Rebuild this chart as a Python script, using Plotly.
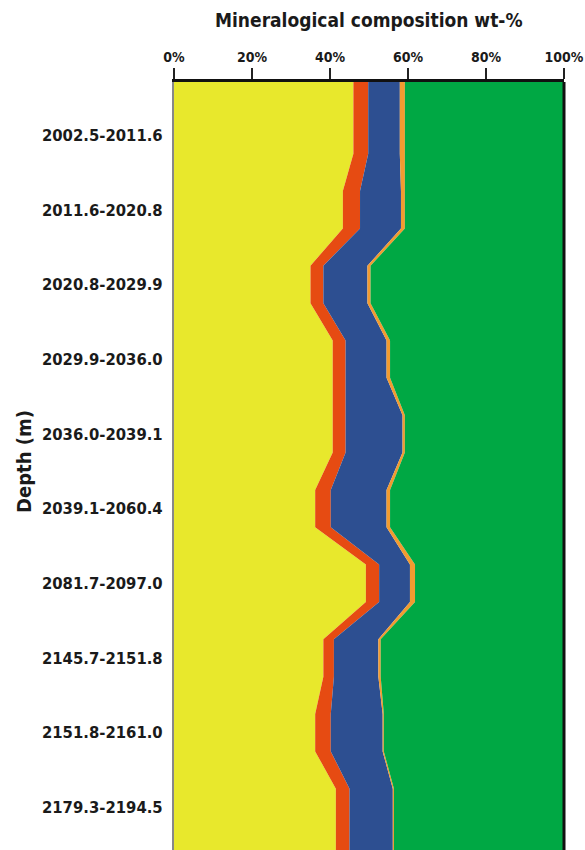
import numpy as np
import plotly.graph_objects as go

# Depth intervals (m), top to bottom
depth_intervals = [
    "2002.5-2011.6", "2011.6-2020.8", "2020.8-2029.9", "2029.9-2036.0",
    "2036.0-2039.1", "2039.1-2060.4", "2081.7-2097.0", "2145.7-2151.8",
    "2151.8-2161.0", "2179.3-2194.5",
]

# Mineral fractions, wt-%
component_a = [46.0, 43.3, 35.0, 40.7, 40.7, 36.2, 49.2, 38.3, 36.2, 41.5]
component_b = [3.8, 4.4, 3.3, 3.3, 3.3, 4.0, 3.4, 2.7, 4.0, 3.5]
component_c = [8.1, 10.5, 11.3, 10.5, 14.6, 14.3, 7.9, 11.4, 13.3, 11.1]
component_d = [1.3, 1.0, 0.8, 0.9, 0.6, 0.9, 1.3, 0.6, 0.3, 0.3]
component_e = [40.8, 40.8, 49.6, 44.6, 40.8, 44.6, 38.2, 47.0, 46.2, 43.6]

x_ticks = [0, 20, 40, 60, 80, 100]

layers = [
    ("Component A", component_a, "#E8E82C"),
    ("Component B", component_b, "#E64B12"),
    ("Component C", component_c, "#2D4F91"),
    ("Component D", component_d, "#F29B30"),
    ("Component E", component_e, "#00A844"),
]

n = len(depth_intervals)
idx = np.arange(n)
half = 0.25                      # each interval is held flat over +/- half a row
y_top, y_bottom = -0.71, n - 1 + 0.57

# Every interval contributes a flat segment; the outermost ones reach the frame
y_path = np.column_stack([idx - half, idx + half]).ravel().astype(float)
y_path[0] = y_top
y_path[-1] = y_bottom

fig = go.Figure()
for name, vals, color in layers:
    fig.add_trace(go.Scatter(
        x=np.repeat(np.asarray(vals, dtype=float), 2),
        y=y_path,
        name=name,
        mode="lines",
        line=dict(width=0, color=color),
        fillcolor=color,
        stackgroup="comp",
        orientation="h",
        showlegend=False,
    ))

narrow = "DejaVu Sans Condensed, Liberation Sans Narrow, sans-serif"

fig.update_layout(
    width=585, height=850,
    margin=dict(l=174, r=21, t=82, b=0),
    paper_bgcolor="white", plot_bgcolor="white",
    font=dict(family=narrow, color="#1a1a1a"),
    xaxis=dict(
        side="top", range=[0, 100],
        tickvals=x_ticks, ticktext=[f"{v}%" for v in x_ticks],
        ticks="outside", ticklen=11, tickwidth=1.5, tickcolor="#222",
        tickfont=dict(size=14, weight="bold"),
        showline=True, linewidth=3, linecolor="#111",
        showgrid=False, zeroline=False,
    ),
    yaxis=dict(
        range=[y_bottom, y_top],
        tickvals=idx.tolist(), ticktext=depth_intervals,
        ticks="", ticklabelstandoff=6,
        tickfont=dict(size=16.5, weight="bold"),
        showline=True, linewidth=2, linecolor="#888",
        showgrid=False, zeroline=False,
    ),
    shapes=[dict(type="line", xref="paper", yref="paper",
                 x0=1, x1=1, y0=0, y1=1,
                 line=dict(color="#111", width=3))],
    annotations=[
        dict(text="Mineralogical composition wt-%", xref="paper", yref="paper",
             x=0.5, y=1, yshift=62, showarrow=False, yanchor="middle",
             font=dict(size=19, weight="bold")),
        dict(text="Depth (m)", xref="paper", yref="paper",
             x=0, y=0.5, xshift=-150, yshift=4, showarrow=False, textangle=-90,
             xanchor="center", yanchor="middle",
             font=dict(size=20, weight="bold")),
    ],
)

fig.write_html("out.html")
